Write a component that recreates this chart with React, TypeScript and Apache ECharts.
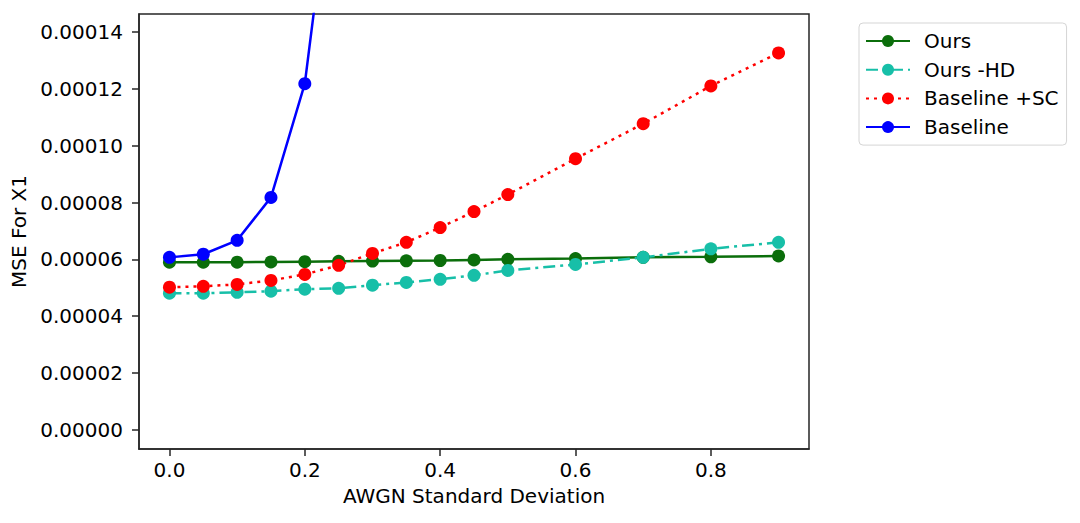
import React, { useEffect, useRef } from "react";
import * as echarts from "echarts";

const xValues = [0, 0.05, 0.1, 0.15, 0.2, 0.25, 0.3, 0.35, 0.4, 0.45, 0.5, 0.6, 0.7, 0.8, 0.9];
const oursValues = [5.9e-5, 5.9e-5, 5.9e-5, 5.91e-5, 5.92e-5, 5.93e-5, 5.94e-5, 5.95e-5, 5.96e-5, 5.98e-5, 6.0e-5, 6.03e-5, 6.07e-5, 6.09e-5, 6.12e-5];
const oursHDValues = [4.81e-5, 4.81e-5, 4.84e-5, 4.88e-5, 4.95e-5, 4.98e-5, 5.09e-5, 5.19e-5, 5.3e-5, 5.44e-5, 5.61e-5, 5.82e-5, 6.07e-5, 6.37e-5, 6.6e-5];
const baselineSCValues = [5.02e-5, 5.05e-5, 5.12e-5, 5.26e-5, 5.47e-5, 5.79e-5, 6.21e-5, 6.6e-5, 7.12e-5, 7.68e-5, 8.28e-5, 9.54e-5, 10.77e-5, 12.1e-5, 13.26e-5];
const baselineValues = [6.07e-5, 6.18e-5, 6.67e-5, 8.18e-5, 12.18e-5, 21.6e-5];
const xTicks = [0, 0.2, 0.4, 0.6, 0.8];
const yTicks = [0, 0.00002, 0.00004, 0.00006, 0.00008, 0.0001, 0.00012, 0.00014];

const FONT = "DejaVu Sans";

function pairs(vals: number[]) {
  return vals.map((v, i) => [xValues[i], v]);
}

export default function App() {
  const ref = useRef<HTMLDivElement>(null);
  useEffect(() => {
    if (!ref.current) return;
    const chart = echarts.init(ref.current, undefined, { renderer: "svg" });
    const axisColor = "#262626";
    const mk = (name: string, vals: number[], color: string, type: any) => ({
      name,
      type: "line",
      data: pairs(vals),
      symbol: "circle",
      symbolSize: 13,
      showSymbol: true,
      clip: true,
      itemStyle: { color, borderColor: color, borderWidth: 0 },
      lineStyle: { color, width: 2.5, type, cap: "butt" },
      emphasis: { disabled: true },
    });
    chart.setOption({
      animation: false,
      backgroundColor: "#ffffff",
      textStyle: { fontFamily: FONT },
      grid: {
        left: 139,
        top: 14,
        right: 271,
        bottom: 74,
        show: true,
        borderColor: axisColor,
        borderWidth: 1.5,
        backgroundColor: "transparent",
      },
      legend: {
        left: 859,
        top: 23,
        orient: "vertical",
        itemWidth: 44,
        itemHeight: 15,
        itemGap: 8.7,
        padding: [8, 8, 8, 6],
        borderColor: "#d5d5d5",
        borderWidth: 1,
        borderRadius: 4,
        backgroundColor: "#ffffff",
        textStyle: { fontFamily: FONT, fontSize: 20, color: "#000", lineHeight: 20, padding: [0, 0, 0, 9] },
        data: ["Ours", "Ours -HD", "Baseline +SC", "Baseline"],
      },
      xAxis: {
        type: "value",
        min: -0.045,
        max: 0.945,
        name: "AWGN Standard Deviation",
        nameLocation: "middle",
        nameGap: 37,
        nameTextStyle: { fontFamily: FONT, fontSize: 20, color: "#000" },
        splitLine: { show: false },
        axisLine: { show: true, onZero: false, lineStyle: { color: axisColor, width: 1.5 } },
        axisTick: { show: true, length: 7, lineStyle: { color: axisColor, width: 1.5 }, customValues: xTicks },
        axisLabel: {
          fontFamily: FONT,
          fontSize: 20,
          color: "#000",
          margin: 11,
          customValues: xTicks,
          formatter: (v: number) => v.toFixed(1),
        },
      },
      yAxis: {
        type: "value",
        min: -0.0000067,
        max: 0.0001463,
        name: "MSE For X1",
        nameLocation: "middle",
        nameGap: 105,
        nameRotate: 90,
        nameTextStyle: { fontFamily: FONT, fontSize: 20, color: "#000" },
        splitLine: { show: false },
        axisLine: { show: true, onZero: false, lineStyle: { color: axisColor, width: 1.5 } },
        axisTick: { show: true, length: 7, lineStyle: { color: axisColor, width: 1.5 }, customValues: yTicks },
        axisLabel: {
          fontFamily: FONT,
          fontSize: 20,
          color: "#000",
          margin: 16,
          customValues: yTicks,
          formatter: (v: number) => v.toFixed(5),
        },
      },
      series: [
        mk("Ours", oursValues, "#0b6e0b", "solid"),
        mk("Ours -HD", oursHDValues, "#17bfa8", [12, 5, 3, 5]),
        mk("Baseline +SC", baselineSCValues, "#ff0000", [3, 5]),
        mk("Baseline", baselineValues, "#0000ff", "solid"),
      ],
    });
    return () => chart.dispose();
  }, []);
  return <div ref={ref} style={{ width: 1080, height: 523, position: "absolute", left: 0, top: 0 }} />;
}
